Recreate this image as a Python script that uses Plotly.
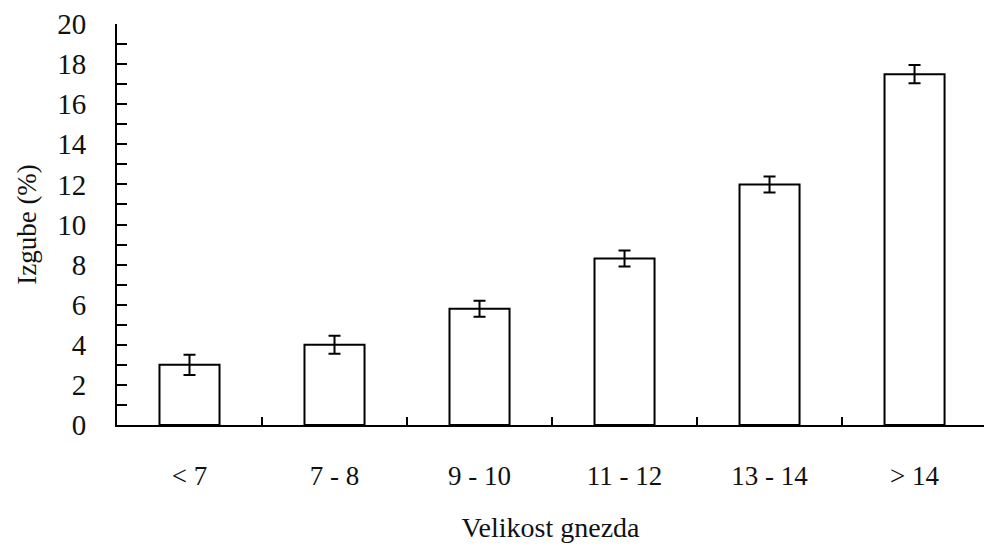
import plotly.graph_objects as go

categories = ["< 7", "7 - 8", "9 - 10", "11 - 12", "13 - 14", "> 14"]
losses = [3.0, 4.0, 5.8, 8.3, 12.0, 17.5]
errors = [0.5, 0.45, 0.4, 0.4, 0.4, 0.45]
y_ticks = list(range(0, 21, 2))

font = "Liberation Serif"

fig = go.Figure(go.Bar(
    x=categories, y=losses,
    width=0.414,
    marker=dict(color="white", line=dict(color="black", width=2)),
    error_y=dict(type="data", array=errors, visible=True, color="black", thickness=2, width=6),
))

fig.update_layout(
    width=984, height=549,
    margin=dict(l=117, r=0, t=24, b=124),
    paper_bgcolor="white", plot_bgcolor="white",
    font=dict(family=font, size=28, color="#111111"),
    showlegend=False,
    xaxis=dict(
        range=[-0.5, 5.479],
        showline=True, linecolor="black", linewidth=2,
        ticks="inside", tickson="boundaries", ticklen=8, tickwidth=2, tickcolor="black",
        showgrid=False, zeroline=False,
        tickfont=dict(family=font, size=27),
        ticklabelstandoff=26,
        title=dict(text="Velikost gnezda", font=dict(family=font, size=28), standoff=27),
    ),
    yaxis=dict(
        range=[0, 20],
        tickvals=y_ticks,
        showline=True, linecolor="black", linewidth=2,
        ticks="inside", ticklen=10, tickwidth=2, tickcolor="black",
        minor=dict(dtick=1, ticks="inside", ticklen=10, tickwidth=2, tickcolor="black", showgrid=False),
        showgrid=False, zeroline=False,
        tickfont=dict(family=font, size=29),
        ticklabelstandoff=23,
        title=dict(text="Izgube (%)", font=dict(family=font, size=27), standoff=13),
    ),
)

fig.write_html("out.html")
